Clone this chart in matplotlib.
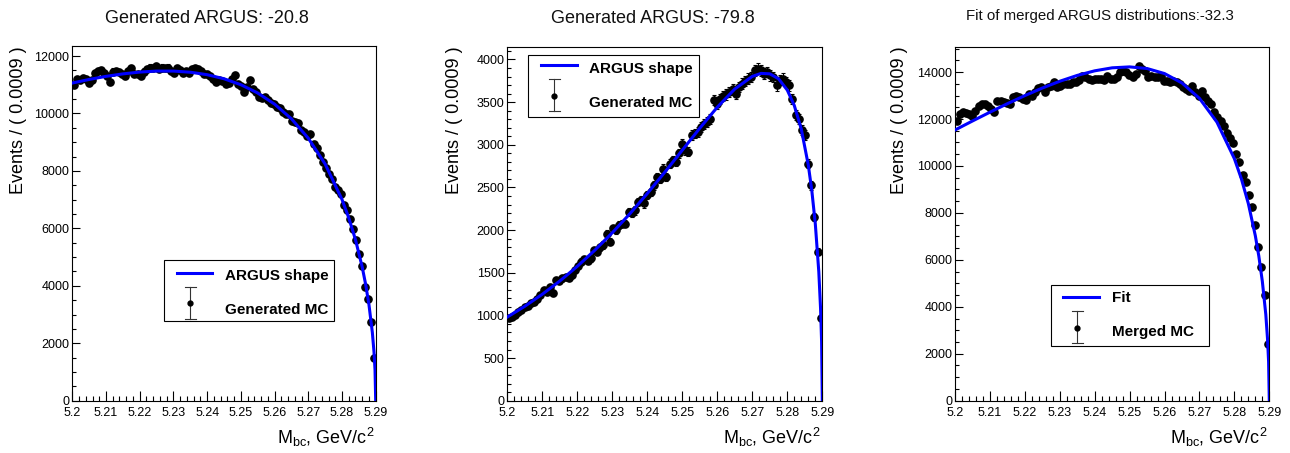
import numpy as np
import matplotlib
matplotlib.use('Agg')
import matplotlib.pyplot as plt
from matplotlib.patches import Rectangle
from matplotlib.lines import Line2D
from matplotlib.ticker import MultipleLocator, FixedLocator, FixedFormatter

plt.rcParams['font.family'] = ['Liberation Sans', 'DejaVu Sans']
plt.rcParams['mathtext.fontset'] = 'custom'
plt.rcParams['mathtext.rm'] = 'Liberation Sans'
plt.rcParams['mathtext.default'] = 'regular'

# ---------------- data ----------------
x_lo, x_hi = 5.2, 5.29
bin_width = 0.0009
n_bins = 100

x_ticks = [5.20, 5.21, 5.22, 5.23, 5.24, 5.25, 5.26, 5.27, 5.28, 5.29]
x_tick_labels = ['5.2', '5.21', '5.22', '5.23', '5.24', '5.25', '5.26', '5.27', '5.28', '5.29']

titles = ['Generated ARGUS: -20.8', 'Generated ARGUS: -79.8',
          'Fit of merged ARGUS distributions:-32.3']
legend_line_labels = ['ARGUS shape', 'ARGUS shape', 'Fit']
legend_point_labels = ['Generated MC', 'Generated MC', 'Merged MC']

gen1_counts = [
    10980, 11210, 11170, 11240, 11200, 11060, 11180, 11400, 11470, 11520,
    11420, 11300, 11100, 11460, 11480, 11450, 11390, 11290, 11480, 11570,
    11390, 11370, 11300, 11460, 11540, 11600, 11580, 11660, 11550, 11600,
    11590, 11600, 11470, 11420, 11590, 11500, 11410, 11470, 11410, 11550,
    11590, 11560, 11470, 11370, 11390, 11300, 11210, 11100, 11180, 11130,
    11040, 11060, 11210, 11330, 11040, 10950, 10750, 10920, 11170, 10860,
    10750, 10570, 10550, 10570, 10460, 10360, 10340, 10220, 10200, 10050,
    9990, 9970, 9740, 9700, 9670, 9410, 9350, 9200, 9300, 8950,
    8800, 8560, 8310, 8100, 7910, 7720, 7430, 7330, 7210, 6810,
    6630, 6340, 5990, 5590, 5100, 4700, 3965, 3540, 2750, 1500]

gen2_counts = [
    965, 985, 1004, 1040, 1063, 1102, 1110, 1141, 1160, 1190,
    1238, 1297, 1270, 1336, 1258, 1414, 1400, 1433, 1453, 1440,
    1472, 1531, 1580, 1629, 1656, 1640, 1668, 1765, 1746, 1800,
    1824, 1960, 1863, 2019, 2000, 2058, 2077, 2077, 2214, 2200,
    2230, 2331, 2351, 2312, 2409, 2448, 2526, 2624, 2604, 2721,
    2624, 2780, 2819, 2800, 2900, 3014, 2936, 2917, 3112, 3130,
    3151, 3209, 3248, 3270, 3307, 3522, 3482, 3541, 3570, 3590,
    3619, 3650, 3600, 3678, 3717, 3750, 3775, 3795, 3873, 3892,
    3873, 3834, 3853, 3814, 3795, 3697, 3760, 3775, 3736, 3697,
    3541, 3346, 3307, 3170, 3112, 2780, 2526, 2155, 1746, 965]

merged_counts = [
    11929, 12213, 12284, 12260, 12213, 12142, 12350, 12567, 12638, 12638,
    12567, 12425, 12284, 12780, 12780, 12709, 12680, 12638, 12920, 12992,
    12921, 12850, 12808, 13063, 13000, 13134, 13300, 13375, 13134, 13346,
    13420, 13559, 13346, 13417, 13488, 13480, 13500, 13559, 13559, 13650,
    13842, 13771, 13700, 13680, 13720, 13700, 13700, 13680, 13842, 13700,
    13700, 13800, 13984, 14055, 13984, 13870, 13771, 13913, 14267, 14126,
    14055, 13771, 13842, 13771, 13800, 13842, 13630, 13630, 13559, 13600,
    13559, 13500, 13346, 13275, 13204, 13417, 13134, 12992, 13204, 12921,
    12780, 12638, 12284, 12071, 11929, 11717, 11420, 11200, 10980, 10512,
    10158, 9600, 9309, 8742, 8246, 7466, 6545, 5695, 4522, 2410]

curve1_x = [5.200, 5.205, 5.210, 5.215, 5.220, 5.225, 5.230, 5.235, 5.240, 5.245,
            5.250, 5.255, 5.260, 5.265, 5.270, 5.275, 5.280, 5.282, 5.284, 5.286,
            5.287, 5.288, 5.289, 5.2895, 5.2898, 5.290]
curve1_y = [11060, 11185, 11293, 11379, 11442, 11477, 11477, 11437, 11351, 11210,
            11002, 10714, 10327, 9815, 9140, 8241, 7007, 6369, 5607, 4653,
            4062, 3343, 2382, 1691, 1072, 0]

curve2_x = [5.200, 5.205, 5.210, 5.215, 5.220, 5.225, 5.230, 5.235, 5.240, 5.245,
            5.250, 5.255, 5.260, 5.265, 5.270, 5.2725, 5.275, 5.2775, 5.280, 5.282,
            5.284, 5.286, 5.287, 5.288, 5.289, 5.2895, 5.2898, 5.290]
curve2_y = [981, 1107, 1248, 1403, 1575, 1764, 1969, 2191, 2429, 2679,
            2937, 3195, 3441, 3654, 3802, 3837, 3832, 3774, 3641, 3460,
            3184, 2762, 2465, 2075, 1512, 1084, 692, 0]

curve3_x = [5.200, 5.205, 5.210, 5.215, 5.220, 5.225, 5.230, 5.235, 5.240, 5.245,
            5.250, 5.255, 5.260, 5.265, 5.270, 5.275, 5.280, 5.282, 5.284, 5.286,
            5.287, 5.288, 5.289, 5.2895, 5.2898, 5.290]
curve3_y = [11531, 11915, 12290, 12653, 12997, 13319, 13608, 13857, 14052, 14180,
            14220, 14150, 13936, 13535, 12880, 11868, 10311, 9455, 8396, 7026,
            6160, 5092, 3674, 2613, 1658, 0]

# ---------------- layout ----------------
W, H = 1290, 453
fig = plt.figure(figsize=(W / 100, H / 100), dpi=100)
fig.patch.set_facecolor('white')

def fx(x):
    return x / W

def fy(y):
    return 1 - y / H

panels = [
    dict(rect=(72.3, 46.0, 375.7, 400.7), counts=gen1_counts, cx=curve1_x, cy=curve1_y,
         ymax=12350, ymaj=2000, ymin=500, title_x=207, title_y=22.7, title_fs=13,
         ylab_x=18.5, xlab_r=375.0,
         leg=dict(box=(164, 260, 334.3, 321.3), line=(176.7, 211.7, 272.7),
                  mk=(190.3, 303.3), bar=(286.7, 319), tx=225, ty1=280, ty2=314.3)),
    dict(rect=(507.3, 46.7, 822.3, 400.7), counts=gen2_counts, cx=curve2_x, cy=curve2_y,
         ymax=4150, ymaj=500, ymin=100, title_x=653, title_y=22.7, title_fs=13,
         ylab_x=454.5, xlab_r=820.7,
         leg=dict(box=(528.3, 55, 699.3, 116.7), line=(541, 576.7, 65.3),
                  mk=(554.3, 95.7), bar=(79.3, 111.3), tx=589, ty1=72.7, ty2=106.7)),
    dict(rect=(955.0, 46.7, 1269.3, 400.7), counts=merged_counts, cx=curve3_x, cy=curve3_y,
         ymax=15080, ymaj=2000, ymin=500, title_x=1100, title_y=20.0, title_fs=10.8,
         ylab_x=899.5, xlab_r=1267.3,
         leg=dict(box=(1050.7, 284.7, 1209.3, 346), line=(1063.3, 1099.3, 297),
                  mk=(1077, 327.7), bar=(311.3, 343.3), tx=1111.7, ty1=302.3, ty2=336)),
]

bin_edges = np.linspace(x_lo, x_hi, n_bins + 1)
bin_centers = 0.5 * (bin_edges[:-1] + bin_edges[1:])

for k, p in enumerate(panels):
    x0, y0, x1, y1 = p['rect']
    ax = fig.add_axes([fx(x0), fy(y1), (x1 - x0) / W, (y1 - y0) / H])
    counts = np.array(p['counts'], dtype=float)
    ax.errorbar(bin_centers, counts, yerr=np.sqrt(counts), fmt='o', color='black',
                ms=5.2, elinewidth=0.8, capsize=1.2, capthick=0.8, zorder=2)
    ax.plot(p['cx'], p['cy'], color='#0000ff', lw=2.2, zorder=3)
    ax.set_xlim(x_lo, x_hi)
    ax.set_ylim(0, p['ymax'])
    ax.xaxis.set_major_locator(FixedLocator(x_ticks))
    ax.xaxis.set_major_formatter(FixedFormatter(x_tick_labels))
    ax.xaxis.set_minor_locator(MultipleLocator(0.002))
    ax.yaxis.set_major_locator(MultipleLocator(p['ymaj']))
    ax.yaxis.set_minor_locator(MultipleLocator(p['ymin']))
    ax.tick_params(axis='x', which='major', direction='in', length=7.5, width=0.8,
                   labelsize=9, pad=4.8)
    ax.tick_params(axis='x', which='minor', direction='in', length=3.6, width=0.8)
    ax.tick_params(axis='y', which='major', direction='in', length=5.5, width=0.8,
                   labelsize=9, pad=2)
    ax.tick_params(axis='y', which='minor', direction='in', length=3.0, width=0.8)
    for s in ax.spines.values():
        s.set_linewidth(0.8)
        s.set_color('black')

    # titles and axis titles (ROOT style: aligned to axis ends)
    fig.text(fx(p['title_x']), fy(p['title_y']), titles[k], ha='center', va='baseline',
             fontsize=p['title_fs'], color='#111111')
    fig.text(fx(p['ylab_x']), fy(y0), 'Events / ( 0.0009 )', rotation=90,
             ha='center', va='top', fontsize=13)
    fig.text(fx(p['xlab_r']), fy(444.3), r'M$_{bc}$, GeV/c$^{2}$', ha='right',
             va='baseline', fontsize=13)

    # legend box
    L = p['leg']
    bx0, by0, bx1, by1 = L['box']
    fig.add_artist(Rectangle((fx(bx0), fy(by1)), (bx1 - bx0) / W, (by1 - by0) / H,
                             transform=fig.transFigure, facecolor='white',
                             edgecolor='black', lw=0.8, zorder=5))
    la, lb, ly = L['line']
    fig.add_artist(Line2D([fx(la), fx(lb)], [fy(ly), fy(ly)], color='#0000ff', lw=2.2,
                          transform=fig.transFigure, zorder=6))
    mx, my = L['mk']
    b0, b1 = L['bar']
    fig.add_artist(Line2D([fx(mx), fx(mx)], [fy(b0), fy(b1)], color='#333333', lw=0.8,
                          transform=fig.transFigure, zorder=6))
    for yy in (b0, b1):
        fig.add_artist(Line2D([fx(mx - 5.5), fx(mx + 5.5)], [fy(yy), fy(yy)],
                              color='#333333', lw=0.8, transform=fig.transFigure, zorder=6))
    fig.add_artist(Line2D([fx(mx)], [fy(my)], marker='o', ms=3.5, color='black',
                          transform=fig.transFigure, zorder=7))
    fig.text(fx(L['tx']), fy(L['ty1']), legend_line_labels[k], ha='left', va='baseline',
             fontsize=11, fontweight='bold', zorder=7)
    fig.text(fx(L['tx']), fy(L['ty2']), legend_point_labels[k], ha='left', va='baseline',
             fontsize=11, fontweight='bold', zorder=7)

fig.savefig('out.png', dpi=100, facecolor='white')
